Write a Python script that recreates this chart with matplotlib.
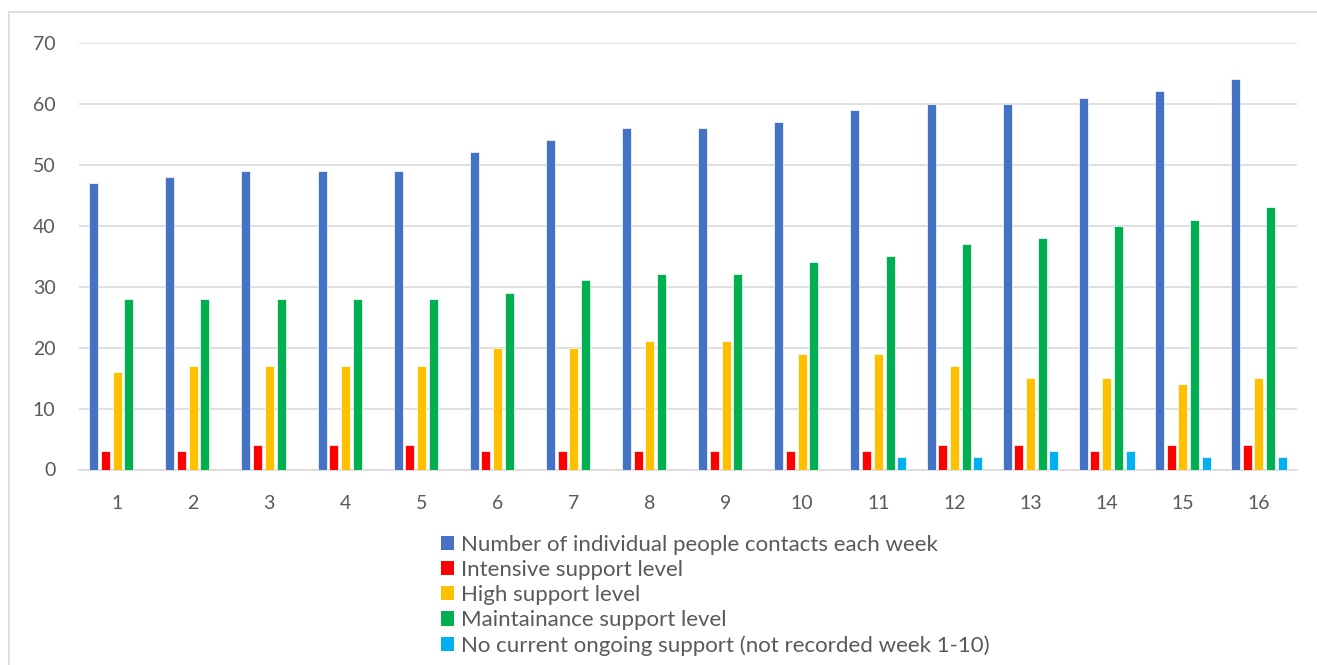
import numpy as np
import matplotlib
matplotlib.use("Agg")
import matplotlib.pyplot as plt
from matplotlib.patches import Rectangle

weeks = [str(i) for i in range(1, 17)]
contacts = [47, 48, 49, 49, 49, 52, 54, 56, 56, 57, 59, 60, 60, 61, 62, 64]
intensive = [3, 3, 4, 4, 4, 3, 3, 3, 3, 3, 3, 4, 4, 3, 4, 4]
high = [16, 17, 17, 17, 17, 20, 20, 21, 21, 19, 19, 17, 15, 15, 14, 15]
maintenance = [28, 28, 28, 28, 28, 29, 31, 32, 32, 34, 35, 37, 38, 40, 41, 43]
# not recorded for weeks 1-10
no_support = [None] * 10 + [2, 2, 3, 3, 2, 2]

series_names = [
    "Number of individual people contacts each week",
    "Intensive support level",
    "High support level",
    "Maintainance support level",
    "No current ongoing support (not recorded week 1-10)",
]
series_values = [contacts, intensive, high, maintenance, no_support]
colors = ["#4472C4", "#FF0000", "#FFC000", "#00B050", "#00B0F0"]

plt.rcParams["font.family"] = ["Lato", "DejaVu Sans"]
text_color = "#595959"
grid_color = "#D9D9D9"

W, H = 1317, 665
fig = plt.figure(figsize=(W / 100, H / 100), dpi=100)

# outer chart border
fig.patches.append(Rectangle((9 / W, -0.1), 1.2, 1 - 12 / H + 0.1,
                             transform=fig.transFigure, fill=False,
                             edgecolor=grid_color, linewidth=1.2))

ax = fig.add_axes([79 / W, (H - 469.5) / H, (1297 - 79) / W, (469.5 - 42.7) / H])

x = np.arange(1, len(weeks) + 1)
step = 0.1537
width = 0.118
for i, (name, vals, col) in enumerate(zip(series_names, series_values, colors)):
    v = np.array([np.nan if a is None else a for a in vals], dtype=float)
    ax.bar(x + (i - 2) * step, v, width=width, color=col, edgecolor="white",
           linewidth=0.5, label=name, zorder=3)

ax.set_xlim(0.5, len(weeks) + 0.5)
ax.set_ylim(0, 70)
ax.set_yticks(range(0, 71, 10))
ax.set_xticks(x)
ax.set_xticklabels(weeks)
ax.yaxis.grid(True, color=grid_color, linewidth=1.2, zorder=0)
ax.set_axisbelow(True)
for s in ["left", "right", "top"]:
    ax.spines[s].set_visible(False)
ax.spines["bottom"].set_color(grid_color)
ax.spines["bottom"].set_linewidth(1.2)
ax.tick_params(axis="both", length=0, labelsize=14, labelcolor=text_color)
ax.tick_params(axis="x", pad=18.5)
ax.tick_params(axis="y", pad=17)

handles, labels = ax.get_legend_handles_labels()
leg = fig.legend(handles, labels, loc="upper left",
                 bbox_to_anchor=(441 / W, 1 - 535 / H),
                 frameon=False, fontsize=16, labelcolor=text_color,
                 handlelength=0.6, handleheight=0.6, handletextpad=0.28,
                 labelspacing=0.23, borderpad=0, borderaxespad=0)
for p in leg.get_patches():
    p.set_edgecolor("none")

fig.savefig("out.png", dpi=100, facecolor="white")
